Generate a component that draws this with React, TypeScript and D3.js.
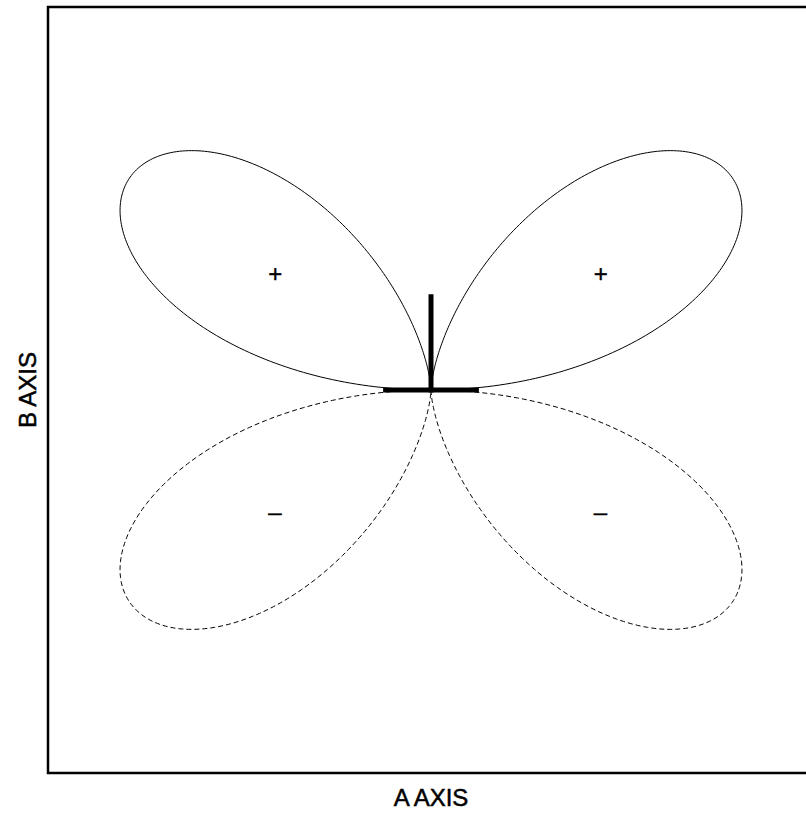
import React from "react";
import * as d3 from "d3";

// Plot window in data units (same range on both axes, equal aspect)
const A_DOMAIN = [-0.4, 0.4];
const B_DOMAIN = [-0.4, 0.4];

// Axis titles
const A_TITLE = "A AXIS";
const B_TITLE = "B AXIS";

// Angular pattern r(θ) = |sin θ · cos² θ|; sign follows sin θ
const pattern = (theta: number) => Math.sin(theta) * Math.cos(theta) ** 2;

// One lobe per quadrant: angle range (degrees) and sign of the pattern
const LOBE_START = [0, 90, 180, 270];
const LOBE_END = [90, 180, 270, 360];
const LOBE_SIGN = ["+", "+", "-", "-"];
const SAMPLES_PER_LOBE = 240;

// Sign markers inside the lobes (data coords, text starts at x)
const MARK_X = [-0.17, 0.17, -0.17, 0.17];
const MARK_Y = [0.122, 0.122, -0.127, -0.127];
const MARK_TEXT = ["+", "+", "\u2013", "\u2013"];

// Reference cross at the origin: a horizontal bar and an upward post
const BAR_X = [-0.05, 0.05];
const POST_Y = [0, 0.1];

const W = 806;
const H = 813;
const PLOT = { left: 48, top: 7, size: 766 };

export default function App() {
  const x = d3
    .scaleLinear()
    .domain(A_DOMAIN)
    .range([PLOT.left, PLOT.left + PLOT.size]);
  const y = d3
    .scaleLinear()
    .domain(B_DOMAIN)
    .range([PLOT.top + PLOT.size, PLOT.top]);

  const line = d3
    .line<[number, number]>()
    .x((d) => x(d[0]))
    .y((d) => y(d[1]))
    .curve(d3.curveLinear);

  const lobes = LOBE_START.map((start, i) => {
    const end = LOBE_END[i];
    const pts: [number, number][] = d3
      .range(SAMPLES_PER_LOBE + 1)
      .map((k) => {
        const deg = start + ((end - start) * k) / SAMPLES_PER_LOBE;
        const t = (deg * Math.PI) / 180;
        const r = Math.abs(pattern(t));
        return [r * Math.cos(t), r * Math.sin(t)];
      });
    return { d: line(pts) || "", sign: LOBE_SIGN[i] };
  });

  const font = "'Liberation Sans', Arial, Helvetica, sans-serif";

  return (
    <svg
      width={W}
      height={H}
      style={{ position: "absolute", left: 0, top: 0, background: "#fff" }}
      fontFamily={font}
    >
      <rect x={0} y={0} width={W} height={H} fill="#fff" />
      {lobes.map((l, i) => (
        <path
          key={i}
          d={l.d}
          fill="none"
          stroke="#000"
          strokeWidth={1}
          strokeDasharray={l.sign === "-" ? "5,3" : undefined}
        />
      ))}
      <line
        x1={x(BAR_X[0])}
        x2={x(BAR_X[1])}
        y1={y(0)}
        y2={y(0)}
        stroke="#000"
        strokeWidth={5}
      />
      <line
        x1={x(0)}
        x2={x(0)}
        y1={y(POST_Y[0]) + 2.5}
        y2={y(POST_Y[1])}
        stroke="#000"
        strokeWidth={5}
      />
      {MARK_TEXT.map((t, i) => (
        <text
          key={i}
          x={x(MARK_X[i])}
          y={y(MARK_Y[i])}
          dominantBaseline="central"
          fontSize={24}
          fill="#000"
          stroke="#000"
          strokeWidth={0.4}
        >
          {t}
        </text>
      ))}
      <rect
        x={PLOT.left}
        y={PLOT.top}
        width={PLOT.size}
        height={PLOT.size}
        fill="none"
        stroke="#000"
        strokeWidth={2.5}
      />
      <text
        x={x(0)}
        y={806}
        textAnchor="middle"
        fontSize={24}
        fill="#000"
        stroke="#000"
        strokeWidth={0.5}
      >
        {A_TITLE}
      </text>
      <text
        transform={`translate(36, ${y(0)}) rotate(-90)`}
        textAnchor="middle"
        fontSize={24}
        fill="#000"
        stroke="#000"
        strokeWidth={0.5}
      >
        {B_TITLE}
      </text>
    </svg>
  );
}
